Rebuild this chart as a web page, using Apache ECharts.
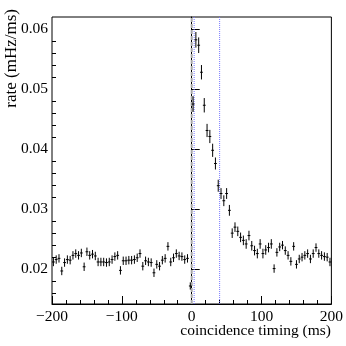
<!DOCTYPE html>
<html>
<head>
<meta charset="utf-8">
<script src="https://cdn.jsdelivr.net/npm/echarts@6/dist/echarts.min.js"></script>
<style>
  html, body { margin: 0; padding: 0; background: #fff; }
  #main { width: 346px; height: 346px; }
</style>
</head>
<body>
<div id="main"></div>
<script>
// bin centres (ms), 4 ms bins
var binCenters = [
  -198,-194,-190,-186,-182,-178,-174,-170,-166,-162,
  -158,-154,-150,-146,-142,-138,-134,-130,-126,-122,
  -118,-114,-110,-106,-102,-98,-94,-90,-86,-82,
  -78,-74,-70,-66,-62,-58,-54,-50,-46,-42,
  -38,-34,-30,-26,-22,-18,-14,-10,-6,-2,
  2,6,10,14,18,22,26,30,34,38,
  42,46,50,54,58,62,66,70,74,78,
  82,86,90,94,98,102,106,110,114,118,
  122,126,130,134,138,142,146,150,154,158,
  162,166,170,174,178,182,186,190,194,198
];
// rate (mHz/ms)
var rates = [
  0.0212,0.0216,0.0218,0.0197,0.0211,0.0216,0.0215,0.0223,0.0226,0.0223,
  0.0227,0.0204,0.0229,0.0223,0.0225,0.0222,0.0212,0.0212,0.0212,0.0211,
  0.0212,0.0216,0.0221,0.0223,0.0198,0.0214,0.0214,0.0215,0.0215,0.0216,
  0.0219,0.0226,0.0205,0.0214,0.0212,0.0211,0.0194,0.0208,0.0205,0.0215,
  0.0218,0.0238,0.0212,0.0219,0.0226,0.0222,0.0221,0.0216,0.0218,0.0172,
  0.0475,0.0582,0.0573,0.0528,0.0473,0.0431,0.0421,0.0398,0.0376,0.0339,
  0.0326,0.0314,0.0326,0.0298,0.0260,0.0270,0.0263,0.0253,0.0248,0.0242,
  0.0256,0.0239,0.0231,0.0226,0.0242,0.0226,0.0232,0.0236,0.0242,0.0201,
  0.0228,0.0237,0.0240,0.0231,0.0223,0.0213,0.0238,0.0208,0.0217,0.0220,
  0.0223,0.0226,0.0217,0.0226,0.0236,0.0226,0.0223,0.0221,0.0220,0.0212
];
// statistical errors on each rate
var rateErrors = [
  0.0007,0.0007,0.0007,0.0007,0.0007,0.0007,0.0007,0.0007,0.0007,0.0007,
  0.0007,0.0007,0.0007,0.0007,0.0007,0.0007,0.0007,0.0007,0.0007,0.0007,
  0.0007,0.0007,0.0007,0.0007,0.0007,0.0007,0.0007,0.0007,0.0007,0.0007,
  0.0007,0.0007,0.0007,0.0007,0.0007,0.0007,0.0007,0.0007,0.0007,0.0007,
  0.0007,0.0007,0.0007,0.0007,0.0007,0.0007,0.0007,0.0007,0.0007,0.0006,
  0.0013,0.0013,0.0013,0.0012,0.0012,0.0011,0.0011,0.0011,0.0010,0.0010,
  0.0009,0.0009,0.0009,0.0009,0.0008,0.0008,0.0008,0.0008,0.0008,0.0008,
  0.0008,0.0008,0.0008,0.0008,0.0008,0.0008,0.0008,0.0008,0.0008,0.0007,
  0.0007,0.0007,0.0007,0.0007,0.0007,0.0007,0.0007,0.0007,0.0007,0.0007,
  0.0007,0.0007,0.0007,0.0007,0.0007,0.0007,0.0007,0.0007,0.0007,0.0007
];
var binHalfWidth = 2;

var yMin = 0.0142, yMax = 0.062;
var yMajor = [0.02, 0.03, 0.04, 0.05, 0.06];
var yMinor = [0.016, 0.018, 0.022, 0.024, 0.026, 0.028, 0.032, 0.034, 0.036, 0.038,
              0.042, 0.044, 0.046, 0.048, 0.052, 0.054, 0.056, 0.058];
// vertical marker lines (ms)
var markerTimes = [0, 3.5, 40];
var markerColors = ['#a8a8a8', '#7777ff', '#7777ff'];
var markerDashes = [[4, 2], [1, 1], [1, 1]];
var markerWidths = [2, 1, 1];

var font = 'Liberation Serif';
var points = binCenters.map(function (t, i) { return [t, rates[i], rateErrors[i]]; });
var markers = markerTimes.map(function (t, i) { return [t, i]; });

var chart = echarts.init(document.getElementById('main'));
chart.setOption({
  animation: false,
  backgroundColor: '#fff',
  grid: { left: 52, right: 14, top: 17, bottom: 42, show: true, borderColor: '#000', borderWidth: 1 },
  xAxis: {
    type: 'value', min: -200, max: 200, interval: 100,
    axisLine: { lineStyle: { color: '#000' } },
    axisTick: { inside: true, length: 8, lineStyle: { color: '#000' } },
    minorTick: { show: true, splitNumber: 5, length: 4, lineStyle: { color: '#000' } },
    splitLine: { show: false },
    axisLabel: {
      color: '#000', fontFamily: font, fontSize: 15.5, margin: 5,
      formatter: function (v) { return String(v).replace('-', '\u2212'); }
    }
  },
  yAxis: [{
    type: 'value', min: yMin, max: yMax,
    axisLine: { show: true, lineStyle: { color: '#000' } },
    axisTick: { show: true, inside: true, length: 8, customValues: yMajor, lineStyle: { color: '#000' } },
    splitLine: { show: false },
    axisLabel: {
      color: '#000', fontFamily: font, fontSize: 15.5, margin: 4, customValues: yMajor,
      formatter: function (v) { return v.toFixed(2); }
    }
  }, {
    type: 'value', min: yMin, max: yMax, position: 'left',
    axisLine: { show: false },
    axisTick: { show: true, inside: true, length: 4, customValues: yMinor, lineStyle: { color: '#000' } },
    axisLabel: { show: false },
    splitLine: { show: false }
  }],
  graphic: [{
    type: 'text', x: 12, y: 9, rotation: Math.PI / 2,
    style: { text: 'rate (mHz/ms)', fontFamily: font, fontSize: 17, fill: '#000',
             align: 'right', verticalAlign: 'middle' }
  }, {
    type: 'text', x: 331, y: 331,
    style: { text: 'coincidence timing (ms)', fontFamily: font, fontSize: 15.5, fill: '#000',
             align: 'right', verticalAlign: 'middle' }
  }],
  series: [{
    type: 'custom',
    z: 1,
    silent: true,
    data: markers,
    encode: { x: 0 },
    renderItem: function (params, api) {
      var t = api.value(0), k = api.value(1);
      var a = api.coord([t, yMin]), b = api.coord([t, yMax]);
      return {
        type: 'line',
        shape: { x1: a[0], y1: a[1], x2: b[0], y2: b[1] },
        style: { stroke: markerColors[k], lineWidth: markerWidths[k], lineDash: markerDashes[k] }
      };
    }
  }, {
    type: 'custom',
    z: 2,
    data: points,
    encode: { x: 0, y: 1 },
    renderItem: function (params, api) {
      var t = api.value(0), v = api.value(1), e = api.value(2);
      var top = api.coord([t, v + e]), bot = api.coord([t, v - e]);
      var l = api.coord([t - binHalfWidth, v]), r = api.coord([t + binHalfWidth, v]);
      return {
        type: 'group',
        children: [
          { type: 'line', shape: { x1: top[0], y1: top[1], x2: bot[0], y2: bot[1] },
            style: { stroke: '#000', lineWidth: 1 } },
          { type: 'line', shape: { x1: l[0], y1: l[1], x2: r[0], y2: r[1] },
            style: { stroke: '#000', lineWidth: 1 } }
        ]
      };
    }
  }]
});
</script>
</body>
</html>
